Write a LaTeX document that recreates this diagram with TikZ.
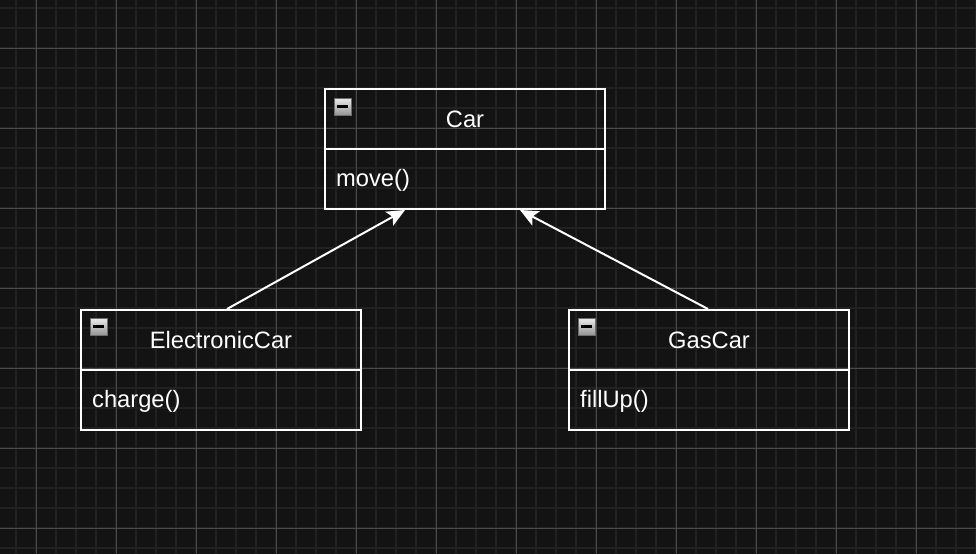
\documentclass[tikz,border=0pt]{standalone}
\usepackage{fontspec}
\setmainfont{Liberation Sans}
\usetikzlibrary{arrows.meta,calc,shadings}
\definecolor{bgc}{HTML}{131313}
\definecolor{minorc}{HTML}{212121}
\definecolor{majorc}{HTML}{4A4A4A}
\definecolor{iconborder}{HTML}{6E6E6E}
\definecolor{icontop}{HTML}{ECECEC}
\definecolor{iconbot}{HTML}{959595}
\tikzset{
  classhead/.style={draw=white, line width=2pt, minimum width=280pt, minimum height=60pt,
    inner sep=0pt, anchor=north west, text=white, font=\fontsize{23.7}{28}\selectfont},
  classbody/.style={classhead},
  membertext/.style={anchor=west, inner sep=0pt, text=white, font=\fontsize{23.7}{28}\selectfont},
  minusicon/.style={draw=iconborder, line width=1pt, minimum size=17pt, inner sep=0pt,
    top color=icontop, bottom color=iconbot,
    path picture={\draw[black, line width=2.4pt]
      ([xshift=3pt]path picture bounding box.west) -- ([xshift=-3pt]path picture bounding box.east);}},
  inherit/.style={draw=white, line width=2pt, -{Stealth[length=18pt,width=16pt,inset=4pt]}},
  minorline/.style={draw=minorc, line width=2pt},
  majorline/.style={draw=majorc, line width=1pt}
}
\begin{document}
\begin{tikzpicture}[x=1pt,y=-1pt]
  \fill[bgc] (0,0) rectangle (976,554);
  \useasboundingbox (0,0) rectangle (976,554);
  % grid
  \foreach \x in {16,36,...,976} \draw[minorline] (\x,0) -- (\x,554);
  \foreach \y in {8,28,...,554} \draw[minorline] (0,\y) -- (976,\y);
  \foreach \x in {36,116,...,976} \draw[majorline] (\x,0) -- (\x,554);
  \foreach \y in {48,128,...,554} \draw[majorline] (0,\y) -- (976,\y);

  % Car
  \node[classhead] (carH) at (324,88) {Car};
  \node[classbody] (carB) at (324,148) {};
  \node[membertext] (carM) at (336,180.5) {move()};
  \node[minusicon] (carI) at (342.5,106.5) {};

  % ElectronicCar
  \node[classhead] (ecH) at (80,309) {ElectronicCar};
  \node[classbody] (ecB) at (80,369) {};
  \node[membertext] (ecM) at (92,401.5) {charge()};
  \node[minusicon] (ecI) at (98.5,326.5) {};

  % GasCar
  \node[classhead] (gcH) at (568,309) {GasCar};
  \node[classbody] (gcB) at (568,369) {};
  \node[membertext] (gcM) at (580,401.5) {fillUp()};
  \node[minusicon] (gcI) at (586.5,326.5) {};

  % inheritance connectors
  \draw[inherit] ([xshift=6pt]ecH.north) -- ([xshift=-60pt]carB.south);
  \draw[inherit] ([xshift=-1pt]gcH.north) -- ([xshift=55pt]carB.south);
\end{tikzpicture}
\end{document}
